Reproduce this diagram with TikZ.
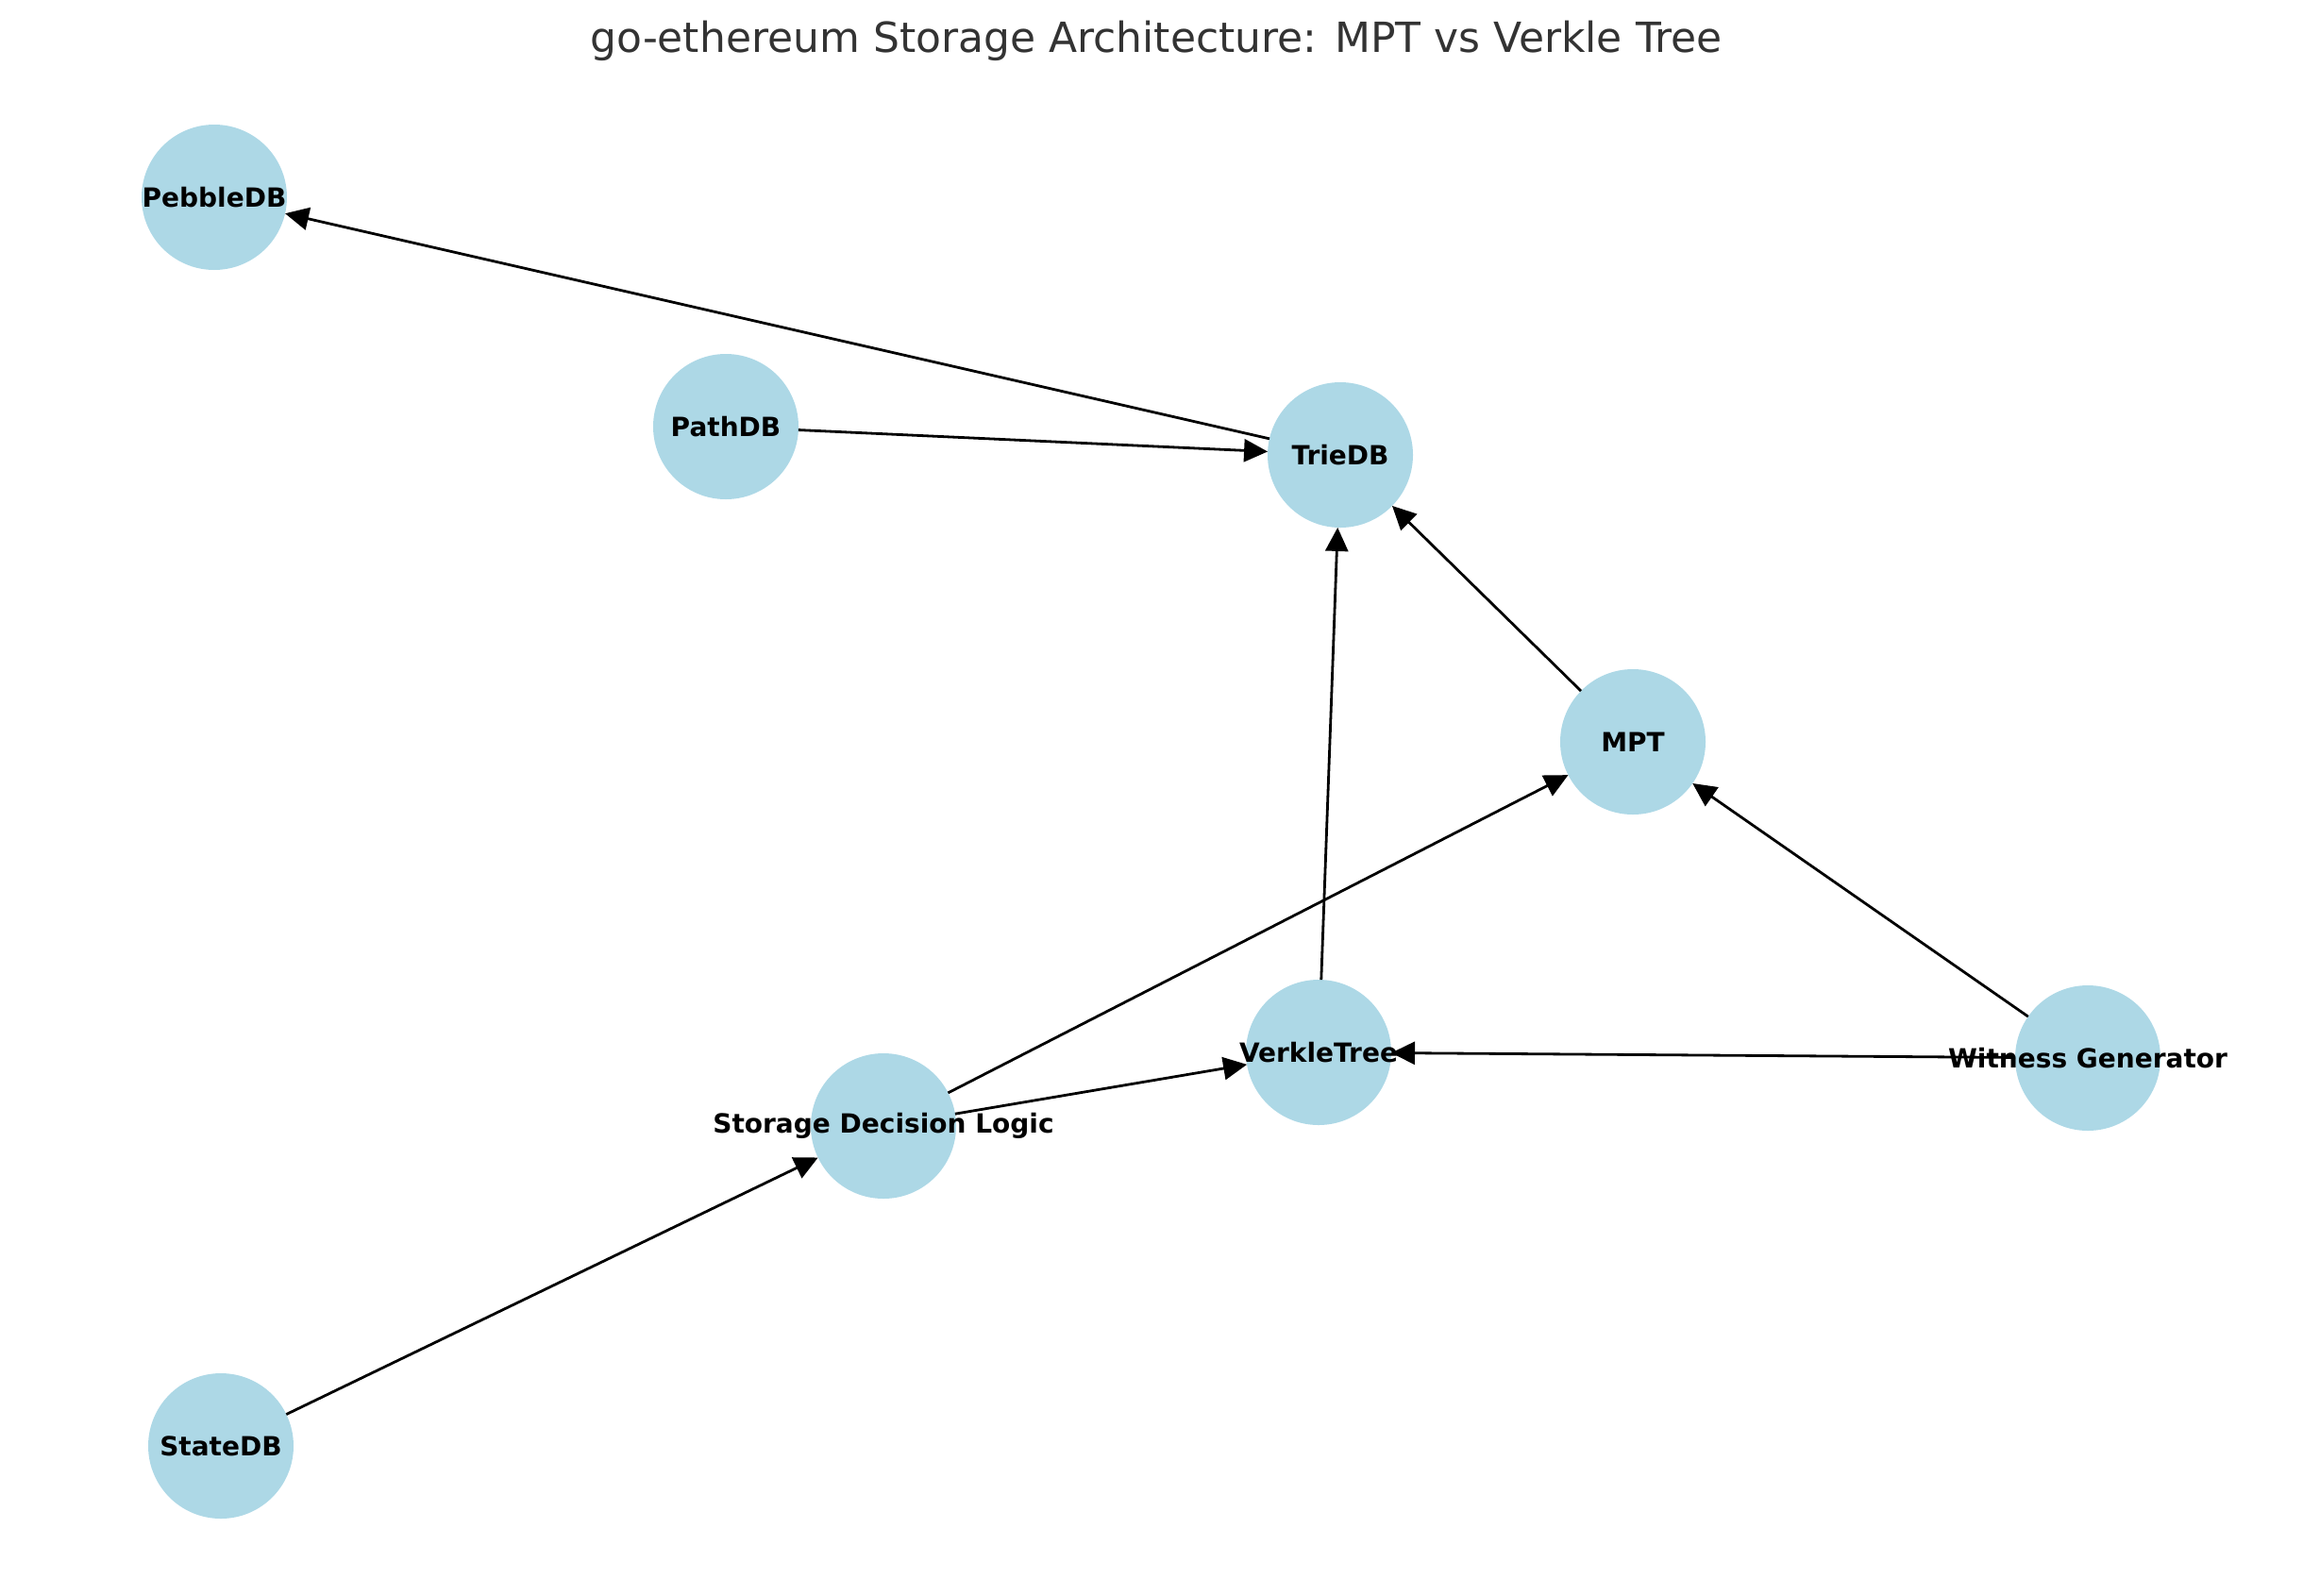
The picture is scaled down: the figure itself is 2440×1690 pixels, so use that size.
\documentclass[tikz,border=0pt]{standalone}
\usepackage{fontspec}
\setmainfont{DejaVu Sans}
\usetikzlibrary{arrows.meta}
\definecolor{nodeblue}{HTML}{ADD8E6}
\definecolor{titlegray}{HTML}{333333}
\begin{document}
\begin{tikzpicture}[x=1pt,y=-1pt,
  circ/.style={circle,fill=nodeblue,draw=none,minimum size=154pt,inner sep=0pt,outer sep=0pt},
  lbl/.style={font=\fontsize{28}{32}\selectfont\bfseries,text=black,inner sep=0pt},
  edge/.style={line width=2.8pt,draw=black,-{Triangle[length=25pt,width=24pt]}}]
\useasboundingbox (0,0) rectangle (2440,1690);
\node[anchor=base,text=titlegray,font=\fontsize{44}{50}\selectfont,inner sep=0pt] (title) at (1225,55) {go-ethereum Storage Architecture: MPT vs Verkle Tree};
\node[circ] (pebble) at (227,209) {};
\node[circ] (path) at (769,452) {};
\node[circ] (trie) at (1420,482) {};
\node[circ] (mpt) at (1730,786) {};
\node[circ] (verkle) at (1397,1115) {};
\node[circ] (witness) at (2212,1121) {};
\node[circ] (storage) at (936,1193) {};
\node[circ] (state) at (234,1532) {};
\draw[edge] (trie) -- (pebble);
\draw[edge] (path) -- (trie);
\draw[edge] (mpt) -- (trie);
\draw[edge] (verkle) -- (trie);
\draw[edge] (storage) -- (mpt);
\draw[edge] (storage) -- (verkle);
\draw[edge] (witness) -- (mpt);
\draw[edge] (witness) -- (verkle);
\draw[edge] (state) -- (storage);
\node[lbl] (pebbleL) at (pebble) {PebbleDB};
\node[lbl] (pathL) at (path) {PathDB};
\node[lbl] (trieL) at (trie) {TrieDB};
\node[lbl] (mptL) at (mpt) {MPT};
\node[lbl] (verkleL) at (verkle) {VerkleTree};
\node[lbl] (witnessL) at (witness) {Witness Generator};
\node[lbl] (storageL) at (storage) {Storage Decision Logic};
\node[lbl] (stateL) at (state) {StateDB};
\end{tikzpicture}
\end{document}
